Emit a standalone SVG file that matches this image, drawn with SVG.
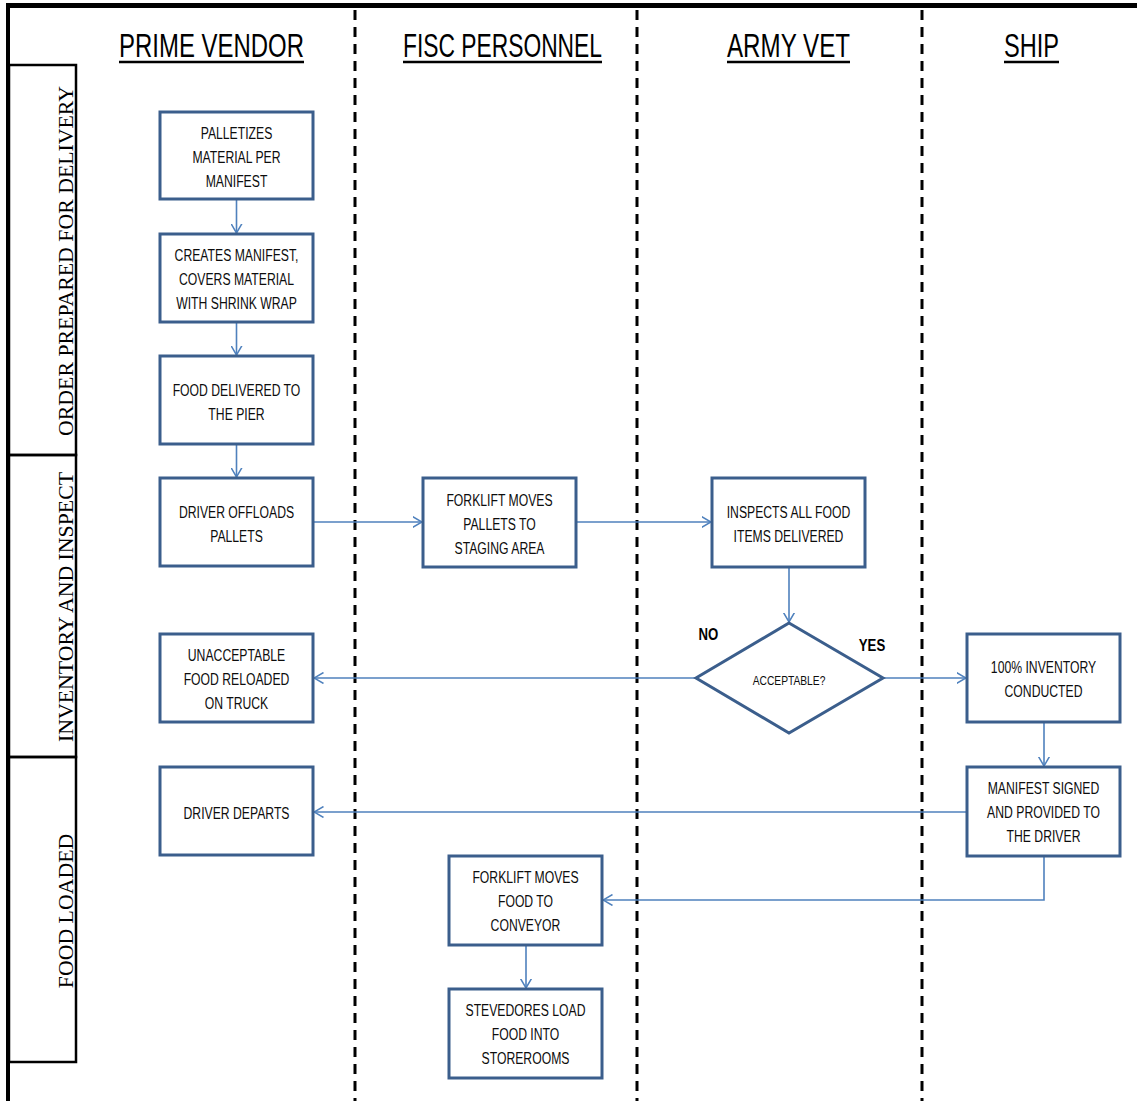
<svg xmlns="http://www.w3.org/2000/svg" width="1137" height="1101" viewBox="0 0 1137 1101">
<defs>
<marker id="arr" viewBox="0 0 10 12" refX="9.5" refY="6" markerWidth="10" markerHeight="12" markerUnits="userSpaceOnUse" orient="auto">
<path d="M0,0.5 L9.5,6 L0,11.5" fill="none" stroke="#4F81BD" stroke-width="1.5"/>
</marker>
<style>
.box{fill:#fff;stroke:#3B5E8C;stroke-width:3}
.con{fill:none;stroke:#4F81BD;stroke-width:1.6;marker-end:url(#arr)}
.lane{stroke:#000;stroke-width:3;stroke-dasharray:10 7;fill:none}
.t{font-family:"Liberation Sans",Arial,sans-serif;font-size:16.5px;fill:#0d0d0d;text-anchor:middle}
.hd{font-family:"Liberation Sans",Arial,sans-serif;font-size:34px;fill:#000;text-anchor:middle}
.ul{stroke:#000;stroke-width:2.5}
.row{font-family:"Liberation Serif","Times New Roman",serif;font-size:21.8px;fill:#000;text-anchor:middle}
.rb{fill:none;stroke:#000;stroke-width:2.5}
.lb{font-family:"Liberation Sans",Arial,sans-serif;font-size:16.5px;font-weight:bold;fill:#000;text-anchor:middle}
</style>
</defs>
<rect x="0" y="0" width="1137" height="1101" fill="#fff"/>

<g id="frame">
<line x1="6" y1="5.5" x2="1137" y2="5.5" stroke="#000" stroke-width="5"/>
<line x1="8" y1="3" x2="8" y2="1101" stroke="#000" stroke-width="4"/>
<line class="lane" x1="355" y1="10" x2="355" y2="1101"/>
<line class="lane" x1="637" y1="10" x2="637" y2="1101"/>
<line class="lane" x1="922" y1="10" x2="922" y2="1101"/>
</g>

<g id="headers">
<text class="hd" x="211.5" y="57" textLength="185" lengthAdjust="spacingAndGlyphs">PRIME VENDOR</text>
<line class="ul" x1="119" y1="62" x2="304" y2="62"/>
<text class="hd" x="502.5" y="57" textLength="199" lengthAdjust="spacingAndGlyphs">FISC PERSONNEL</text>
<line class="ul" x1="403" y1="62" x2="602" y2="62"/>
<text class="hd" x="788.5" y="57" textLength="123" lengthAdjust="spacingAndGlyphs">ARMY VET</text>
<line class="ul" x1="727" y1="62" x2="850" y2="62"/>
<text class="hd" x="1031.5" y="57" textLength="55" lengthAdjust="spacingAndGlyphs">SHIP</text>
<line class="ul" x1="1004" y1="62" x2="1059" y2="62"/>
</g>

<g id="rows">
<rect class="rb" x="9" y="65" width="67" height="390"/>
<rect class="rb" x="9" y="455" width="67" height="302"/>
<rect class="rb" x="9" y="757" width="67" height="305"/>
<text class="row" transform="translate(73 261) rotate(-90)">ORDER PREPARED FOR DELIVERY</text>
<text class="row" transform="translate(73 607) rotate(-90)">INVENTORY AND INSPECT</text>
<text class="row" transform="translate(73 911) rotate(-90)">FOOD LOADED</text>
</g>

<g id="connectors">
<line class="con" x1="236.5" y1="200" x2="236.5" y2="233"/>
<line class="con" x1="236.5" y1="322" x2="236.5" y2="355"/>
<line class="con" x1="236.5" y1="444" x2="236.5" y2="477"/>
<line class="con" x1="314" y1="522" x2="422" y2="522"/>
<line class="con" x1="577" y1="522" x2="711" y2="522"/>
<line class="con" x1="789" y1="567" x2="789" y2="622"/>
<line class="con" x1="696" y1="678" x2="314" y2="678"/>
<line class="con" x1="883" y1="678" x2="966" y2="678"/>
<line class="con" x1="1044" y1="723" x2="1044" y2="766"/>
<line class="con" x1="967" y1="812" x2="314" y2="812"/>
<polyline class="con" points="1044,857 1044,900 603,900"/>
<line class="con" x1="526" y1="946" x2="526" y2="988"/>
<text class="lb" x="708.5" y="640" transform="translate(708.5 0) scale(0.8 1) translate(-708.5 0)">NO</text>
<text class="lb" x="872" y="651" transform="translate(872 0) scale(0.8 1) translate(-872 0)">YES</text>
</g>

<g id="n1">
<rect class="box" x="160" y="112" width="153" height="87"/>
<g transform="translate(236.5 0) scale(0.74 1)">
<text class="t" x="0" y="139">PALLETIZES</text>
<text class="t" x="0" y="163">MATERIAL PER</text>
<text class="t" x="0" y="187">MANIFEST</text>
</g>
</g>

<g id="n2">
<rect class="box" x="160" y="234" width="153" height="88"/>
<g transform="translate(236.5 0) scale(0.74 1)">
<text class="t" x="0" y="261">CREATES MANIFEST,</text>
<text class="t" x="0" y="285">COVERS MATERIAL</text>
<text class="t" x="0" y="309">WITH SHRINK WRAP</text>
</g>
</g>

<g id="n3">
<rect class="box" x="160" y="356" width="153" height="88"/>
<g transform="translate(236.5 0) scale(0.74 1)">
<text class="t" x="0" y="396">FOOD DELIVERED TO</text>
<text class="t" x="0" y="420">THE PIER</text>
</g>
</g>

<g id="n4">
<rect class="box" x="160" y="478" width="153" height="88"/>
<g transform="translate(236.5 0) scale(0.74 1)">
<text class="t" x="0" y="518">DRIVER OFFLOADS</text>
<text class="t" x="0" y="542">PALLETS</text>
</g>
</g>

<g id="n5">
<rect class="box" x="423" y="478" width="153" height="89"/>
<g transform="translate(499.5 0) scale(0.74 1)">
<text class="t" x="0" y="506">FORKLIFT  MOVES</text>
<text class="t" x="0" y="530">PALLETS TO</text>
<text class="t" x="0" y="554">STAGING AREA</text>
</g>
</g>

<g id="n6">
<rect class="box" x="712" y="478" width="153" height="89"/>
<g transform="translate(788.5 0) scale(0.74 1)">
<text class="t" x="0" y="518">INSPECTS ALL FOOD</text>
<text class="t" x="0" y="542">ITEMS DELIVERED</text>
</g>
</g>

<g id="n7">
<polygon class="box" points="789,623 883,678 789,733 696,678"/>
<g transform="translate(789 0) scale(0.76 1)">
<text class="t" x="0" y="685" style="font-size:13.5px">ACCEPTABLE?</text>
</g>
</g>

<g id="n8">
<rect class="box" x="160" y="634" width="153" height="88"/>
<g transform="translate(236.5 0) scale(0.74 1)">
<text class="t" x="0" y="661">UNACCEPTABLE</text>
<text class="t" x="0" y="685">FOOD RELOADED</text>
<text class="t" x="0" y="709">ON TRUCK</text>
</g>
</g>

<g id="n9">
<rect class="box" x="967" y="634" width="153" height="88"/>
<g transform="translate(1043.5 0) scale(0.74 1)">
<text class="t" x="0" y="673">100% INVENTORY</text>
<text class="t" x="0" y="697">CONDUCTED</text>
</g>
</g>

<g id="n10">
<rect class="box" x="967" y="767" width="153" height="89"/>
<g transform="translate(1043.5 0) scale(0.74 1)">
<text class="t" x="0" y="794">MANIFEST SIGNED</text>
<text class="t" x="0" y="818">AND  PROVIDED TO</text>
<text class="t" x="0" y="842">THE DRIVER</text>
</g>
</g>

<g id="n11">
<rect class="box" x="160" y="767" width="153" height="88"/>
<g transform="translate(236.5 0) scale(0.74 1)">
<text class="t" x="0" y="819">DRIVER DEPARTS</text>
</g>
</g>

<g id="n12">
<rect class="box" x="449" y="856" width="153" height="89"/>
<g transform="translate(525.5 0) scale(0.74 1)">
<text class="t" x="0" y="883">FORKLIFT  MOVES</text>
<text class="t" x="0" y="907">FOOD TO</text>
<text class="t" x="0" y="931">CONVEYOR</text>
</g>
</g>

<g id="n13">
<rect class="box" x="449" y="989" width="153" height="89"/>
<g transform="translate(525.5 0) scale(0.74 1)">
<text class="t" x="0" y="1016">STEVEDORES LOAD</text>
<text class="t" x="0" y="1040">FOOD INTO</text>
<text class="t" x="0" y="1064">STOREROOMS</text>
</g>
</g>
</svg>
